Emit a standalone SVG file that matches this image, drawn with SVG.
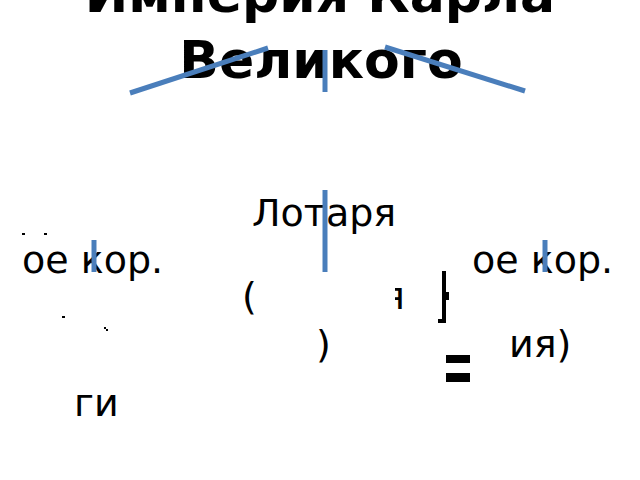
<svg xmlns="http://www.w3.org/2000/svg" width="640" height="480" viewBox="0 0 640 480">
<style>
.t{font-family:"DejaVu Sans","Noto Sans",sans-serif;font-size:38px;fill:#000}
.h{font-family:"DejaVu Sans","Noto Sans",sans-serif;font-size:52px;font-weight:bold;fill:#000;text-anchor:middle}
.c{stroke:#4a7ebb;stroke-width:5;fill:none}
</style>
<defs>
<clipPath id="cy"><rect x="395" y="280" width="10" height="40"/></clipPath>
</defs>
<rect width="640" height="480" fill="#fff"/>
<g id="title">
<text class="h" x="320" y="12">Империя Карла</text>
<text class="h" x="321" y="78">Великого</text>
</g>
<g id="left">
<text class="t" x="22" y="273">ое кор.</text>
<text class="t" x="74" y="416">ги</text>
<rect x="22" y="233" width="3" height="2"/>
<rect x="44" y="233" width="3" height="2"/>
<rect x="62" y="316" width="3" height="2"/>
<rect x="104" y="327" width="2" height="2"/>
<rect x="106" y="329" width="2" height="2"/>
</g>
<g id="center">
<text class="t" x="252" y="226">Лотаря</text>
<text class="t" x="242" y="309">(</text>
<text class="t" x="316" y="357">)</text>
<text class="t" x="382" y="309" clip-path="url(#cy)">я</text>
</g>
<g id="right">
<text class="t" x="472" y="273">ое кор.</text>
<text class="t" x="509" y="357">ия)</text>
<path d="M444 271V321H438" stroke="#000" stroke-width="4" fill="none"/>
<rect x="446" y="292" width="3" height="8"/>
<rect x="446" y="355" width="24" height="8"/>
<rect x="446" y="373" width="24" height="9"/>
</g>
<g id="connectors">
<line class="c" x1="130" y1="93" x2="268" y2="48"/>
<line class="c" x1="325" y1="50" x2="325" y2="92"/>
<line class="c" x1="385" y1="47" x2="525" y2="91"/>
<line class="c" x1="325" y1="190" x2="325" y2="272"/>
<line class="c" x1="94" y1="240" x2="94" y2="272"/>
<line class="c" x1="545" y1="240" x2="545" y2="272"/>
</g>
</svg>
